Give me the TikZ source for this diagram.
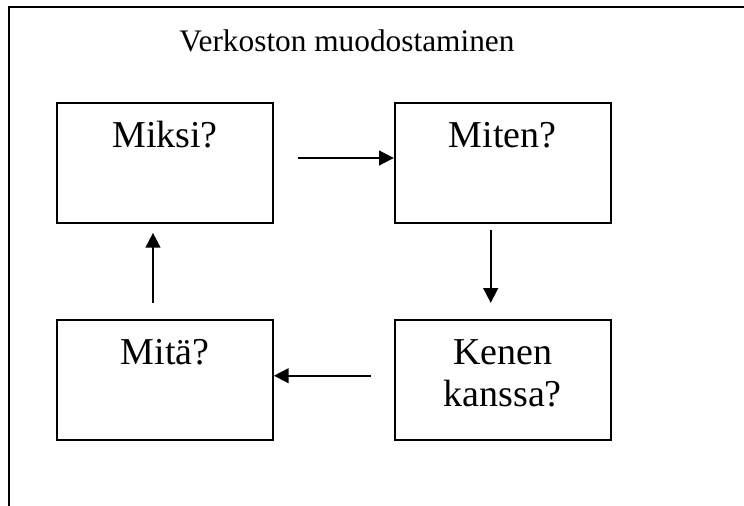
\documentclass[tikz,border=0pt]{standalone}
\usepackage{fontspec}
\setmainfont{Liberation Serif}
\usetikzlibrary{arrows.meta}
\usetikzlibrary{positioning}

\begin{document}
\begin{tikzpicture}[x=0.75pt,y=-0.75pt,line width=1.3pt,>={Triangle[length=11pt,width=11pt]},
	every node/.style={font=\fontsize{28.5}{31.5}\selectfont},
	box/.style={rectangle,draw,inner sep=0pt,text width=162pt,align=center,text height=33.75pt,text depth=56.25pt},
	node distance=71.25pt and 90pt]
	
	\useasboundingbox (0,0) rectangle (744,506);
	\draw (9,506) -- (9,7) -- (744,7);
	\node[anchor=base,font=\fontsize{23.5}{28}\selectfont] (title) at (347,52) {Verkoston muodostaminen};
	
	\node[box] (miksi) at (165,163) {Miksi?};
	\node[box,right=of miksi] (miten) {Miten?};
	\node[box,below=of miten] (kenen) {Kenen\\kanssa?};
	\node[box,below=of miksi] (mita) {Mitä?};
	
	\draw[->,shorten <=18pt] ([yshift=3.75pt]miksi.east) -- ([yshift=3.75pt]miten.west);
	\draw[->,shorten <=4.5pt,shorten >=12pt] ([xshift=-9pt]miten.south) -- ([xshift=-9pt]kenen.north);
	\draw[->,shorten <=17.25pt] ([yshift=3pt]kenen.west) -- ([yshift=3pt]mita.east);
	\draw[->,shorten <=12pt,shorten >=6.75pt] ([xshift=-9pt]mita.north) -- ([xshift=-9pt]miksi.south);
	\end{tikzpicture}
\end{document}
